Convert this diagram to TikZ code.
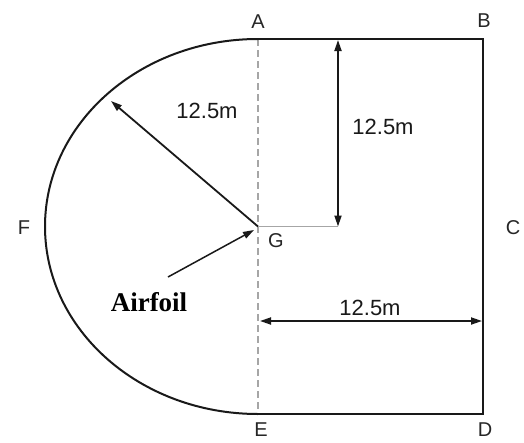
\documentclass[tikz,border=0pt]{standalone}
\usepackage{fontspec}
\setmainfont{Liberation Sans}
\newfontfamily\airfont{Liberation Serif}
\usetikzlibrary{arrows.meta}
\begin{document}
\begin{tikzpicture}[x=1pt,y=-1pt,
  wall/.style={line width=2pt,black!90},
  axisline/.style={line width=1.3pt,gray!70,dash pattern=on 7pt off 4pt},
  dim/.style={line width=1.8pt,black!90,{Triangle[length=11pt,width=7pt]}-{Triangle[length=11pt,width=7pt]}},
  ray/.style={line width=1.8pt,black!90,-{Triangle[length=11pt,width=7pt]}},
  lbl/.style={font=\fontsize{20}{22}\selectfont,text=black!85,inner sep=0pt},
  dimlbl/.style={font=\fontsize{22}{24}\selectfont,text=black!90,inner sep=0pt},
  airlbl/.style={font=\airfont\bfseries\fontsize{27}{29}\selectfont,inner sep=0pt}]
\useasboundingbox[fill=white] (0,0) rectangle (524,442);
% corner points
\coordinate (pA) at (258,39);
\coordinate (pB) at (483,39);
\coordinate (pD) at (483,414);
\coordinate (pE) at (258,414);
\coordinate (pG) at (258,226.5);
\coordinate (pR) at (111,101);
\coordinate (pV1) at (338,40);
\coordinate (pV2) at (338,226.5);
\coordinate (pH1) at (260,321);
\coordinate (pH2) at (482,321);
\coordinate (pS) at (168,277);
\coordinate (pT) at (254,230);
% outline
\draw[axisline] (pA) -- (pE);
\draw[wall] (pA) -- (pB) -- (pD) -- (pE);
\draw[wall] (pA) arc[start angle=-90,end angle=-270,x radius=213,y radius=187.5];
% dimensions
\draw[ray] (pG) -- (pR);
\draw[line width=1.3pt,gray!70] (pG) -- (pV2);
\draw[dim] (pV2) -- (pV1);
\draw[dim] (pH1) -- (pH2);
\draw[ray,line width=1.5pt] (pS) -- (pT);
% labels
\node[lbl] (lA) at (258,22) {A};
\node[lbl] (lB) at (484,21) {B};
\node[lbl] (lC) at (513,228) {C};
\node[lbl] (lD) at (485,430) {D};
\node[lbl] (lE) at (261,430) {E};
\node[lbl] (lF) at (24,228) {F};
\node[lbl] (lG) at (276,241) {G};
\node[dimlbl] (d1) at (207,111) {12.5m};
\node[dimlbl] (d2) at (383,127) {12.5m};
\node[dimlbl] (d3) at (370,308) {12.5m};
\node[airlbl] (air) at (149,302) {Airfoil};
\end{tikzpicture}
\end{document}
